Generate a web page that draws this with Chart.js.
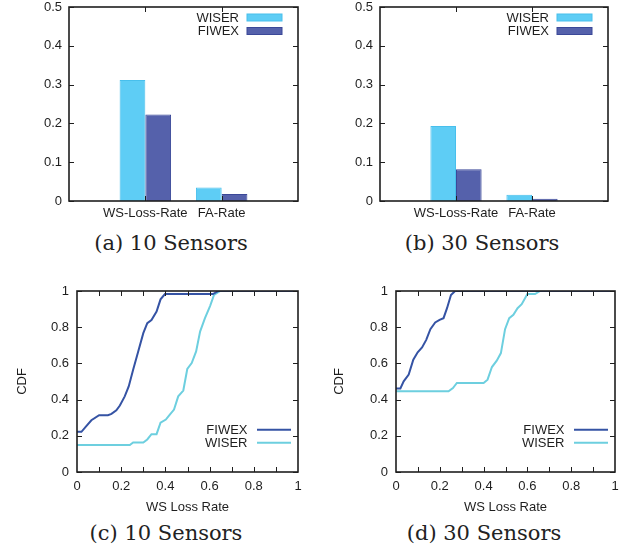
<!DOCTYPE html>
<html>
<head>
<meta charset="utf-8">
<script src="https://cdn.jsdelivr.net/npm/chart.js@4"></script>
<style>
  body { margin: 0; background: #fff; width: 628px; height: 550px; position: relative; overflow: hidden; }
  canvas { position: absolute; }
  .cap { position: absolute; font-family: "DejaVu Serif", serif; font-size: 21px; color: #222; white-space: nowrap; transform: translate(-50%, -50%); }
</style>
</head>
<body>
<canvas id="c10bar" width="310" height="222" style="left:0;top:0"></canvas>
<canvas id="c30bar" width="318" height="222" style="left:310px;top:0"></canvas>
<canvas id="c10cdf" width="310" height="239" style="left:0;top:276px"></canvas>
<canvas id="c30cdf" width="318" height="239" style="left:310px;top:276px"></canvas>
<div class="cap" style="left:171px;top:243px">(a) 10 Sensors</div>
<div class="cap" style="left:482px;top:243px">(b) 30 Sensors</div>
<div class="cap" style="left:166px;top:533px">(c) 10 Sensors</div>
<div class="cap" style="left:484px;top:533px">(d) 30 Sensors</div>
<script>
// bar charts
const barCategories = ['WS-Loss-Rate', 'FA-Rate'];
const wiser10 = [0.312, 0.035];
const fiwex10 = [0.223, 0.018];
const wiser30 = [0.193, 0.016];
const fiwex30 = [0.082, 0.006];

// CDF curves, [ws loss rate, cdf]
const fiwexCdf10 = [[0,0.222],[0.02,0.222],[0.042,0.253],[0.065,0.286],[0.1,0.314],[0.14,0.314],[0.156,0.321],
  [0.178,0.341],[0.194,0.367],[0.216,0.418],[0.234,0.473],[0.254,0.565],[0.277,0.666],[0.3,0.767],[0.318,0.822],
  [0.337,0.84],[0.36,0.886],[0.378,0.954],[0.398,0.983],[0.615,0.983],[0.64,1],[1,1]];
const wiserCdf10 = [[0,0.149],[0.239,0.149],[0.254,0.163],[0.3,0.163],[0.318,0.18],[0.337,0.209],[0.36,0.209],
  [0.378,0.272],[0.402,0.29],[0.42,0.317],[0.439,0.345],[0.458,0.418],[0.481,0.45],[0.499,0.569],[0.519,0.602],
  [0.539,0.666],[0.557,0.776],[0.579,0.85],[0.602,0.917],[0.62,0.978],[0.648,1],[1,1]];
const fiwexCdf30 = [[0,0.462],[0.02,0.462],[0.035,0.501],[0.058,0.538],[0.079,0.62],[0.099,0.661],[0.119,0.688],
  [0.138,0.73],[0.157,0.789],[0.179,0.826],[0.199,0.84],[0.217,0.85],[0.233,0.905],[0.251,0.978],[0.27,1],[1,1]];
const wiserCdf30 = [[0,0.446],[0.24,0.446],[0.26,0.464],[0.278,0.492],[0.4,0.492],[0.418,0.51],[0.438,0.58],
  [0.46,0.615],[0.479,0.657],[0.498,0.789],[0.517,0.85],[0.536,0.868],[0.555,0.905],[0.574,0.927],[0.6,0.983],
  [0.635,0.983],[0.658,1],[1,1]];

const WISER_BAR = '#5ecdf5', WISER_EDGE = '#48bfec';
const FIWEX_BAR = '#5561ab', FIWEX_EDGE = '#3b4898';
const FIWEX_LINE = '#3553a4', WISER_LINE = '#6dcfdf';
const INK = '#1e1e1e';
const FONT = { family: 'Liberation Sans, Arial, sans-serif', size: 13 };

const fmt = v => String(+Number(v).toFixed(1));

// gnuplot-like frame with inward ticks, plus a gnuplot-style key
const framePlugin = {
  id: 'frame',
  afterDraw(chart, args, opts) {
    const { ctx, chartArea: a } = chart;
    const xs = chart.scales.x, ys = chart.scales.y;
    ctx.save();
    ctx.strokeStyle = INK;
    ctx.lineWidth = 1;
    ys.ticks.forEach(t => {
      const py = Math.round(ys.getPixelForValue(t.value)) + 0.5;
      ctx.beginPath();
      ctx.moveTo(a.left, py); ctx.lineTo(a.left + 5, py);
      ctx.moveTo(a.right, py); ctx.lineTo(a.right - 5, py);
      ctx.stroke();
    });
    (opts.xTicks || []).forEach(v => {
      const px = Math.round(xs.getPixelForValue(v)) + 0.5;
      ctx.beginPath();
      ctx.moveTo(px, a.top); ctx.lineTo(px, a.top + 5);
      ctx.moveTo(px, a.bottom); ctx.lineTo(px, a.bottom - 5);
      ctx.stroke();
    });
    ctx.lineWidth = 1.6;
    ctx.strokeRect(a.left, a.top, a.right - a.left, a.bottom - a.top);

    // key
    ctx.font = FONT.size + 'px ' + FONT.family;
    ctx.textAlign = 'right';
    ctx.textBaseline = 'middle';
    const rows = opts.keyOrder.map(i => chart.data.datasets[i]);
    rows.forEach((ds, k) => {
      const y = opts.keyFromBottom ? a.bottom - opts.keyY + k * 13 : a.top + opts.keyY + k * 13.5;
      ctx.fillStyle = INK;
      ctx.fillText(ds.label, a.right - opts.textGap, y + 0.5);
      if (opts.bars) {
        ctx.fillStyle = ds.backgroundColor;
        ctx.fillRect(a.right - 51, y - 3.5, 35, 7);
        ctx.strokeStyle = ds.borderColor;
        ctx.lineWidth = 1;
        ctx.strokeRect(a.right - 51, y - 3.5, 35, 7);
      } else {
        ctx.strokeStyle = ds.borderColor;
        ctx.lineWidth = 2;
        ctx.beginPath();
        ctx.moveTo(a.right - 41, y); ctx.lineTo(a.right - 7, y);
        ctx.stroke();
      }
    });
    ctx.restore();
  }
};

function fixX(h) {
  return s => { s.height = h; s.paddingLeft = 0; s.paddingRight = 0; };
}
function fixY(w) {
  return s => { s.width = w; s.paddingTop = 0; s.paddingBottom = 0; };
}

function barChart(id, wiser, fiwex, yAxisWidth, padRight) {
  new Chart(document.getElementById(id), {
    type: 'bar',
    data: {
      labels: ['', ...barCategories, ''],
      datasets: [
        { label: 'WISER', data: [null, ...wiser, null], backgroundColor: WISER_BAR, borderColor: WISER_EDGE, borderWidth: 1 },
        { label: 'FIWEX', data: [null, ...fiwex, null], backgroundColor: FIWEX_BAR, borderColor: FIWEX_EDGE, borderWidth: 1 }
      ]
    },
    options: {
      responsive: false,
      animation: false,
      devicePixelRatio: 1,
      categoryPercentage: 0.674,
      barPercentage: 1,
      layout: { padding: { top: 7, right: padRight, left: 0, bottom: 0 } },
      scales: {
        x: {
          offset: false,
          grid: { display: false, drawTicks: false, offset: false },
          border: { display: false },
          ticks: { color: INK, font: FONT, padding: 5, autoSkip: false, maxRotation: 0 },
          afterFit: fixX(21)
        },
        y: {
          min: 0, max: 0.5,
          grid: { display: false, drawTicks: false },
          border: { display: false },
          ticks: { stepSize: 0.1, color: INK, font: FONT, padding: 7, callback: fmt },
          afterFit: fixY(yAxisWidth)
        }
      },
      plugins: {
        legend: { display: false },
        tooltip: { enabled: false },
        frame: { xTicks: [1, 2], keyOrder: [0, 1], keyY: 10.5, textGap: 59, bars: true }
      }
    },
    plugins: [framePlugin]
  });
}

function cdfChart(id, fiwex, wiser, yAxisWidth, padRight, titlePad) {
  const pts = arr => arr.map(p => ({ x: p[0], y: p[1] }));
  new Chart(document.getElementById(id), {
    type: 'line',
    data: {
      datasets: [
        { label: 'FIWEX', data: pts(fiwex), borderColor: FIWEX_LINE, borderWidth: 2, pointRadius: 0, tension: 0 },
        { label: 'WISER', data: pts(wiser), borderColor: WISER_LINE, borderWidth: 2, pointRadius: 0, tension: 0 }
      ]
    },
    options: {
      responsive: false,
      animation: false,
      devicePixelRatio: 1,
      layout: { padding: { top: 15, right: padRight, left: 0, bottom: 0 } },
      scales: {
        x: {
          type: 'linear', min: 0, max: 1,
          grid: { display: false, drawTicks: false },
          border: { display: false },
          ticks: { stepSize: 0.2, color: INK, font: FONT, padding: 7, maxRotation: 0, callback: fmt },
          title: { display: true, text: 'WS Loss Rate', color: INK, font: FONT, padding: { top: 0, bottom: 0 } },
          afterFit: fixX(43)
        },
        y: {
          min: 0, max: 1,
          grid: { display: false, drawTicks: false },
          border: { display: false },
          ticks: { stepSize: 0.2, color: INK, font: FONT, padding: 8, callback: fmt },
          title: { display: true, text: 'CDF', color: INK, font: FONT, padding: { top: titlePad, bottom: 0 } },
          afterFit: fixY(yAxisWidth)
        }
      },
      plugins: {
        legend: { display: false },
        tooltip: { enabled: false },
        frame: { xTicks: [0.1, 0.2, 0.3, 0.4, 0.5, 0.6, 0.7, 0.8, 0.9], keyOrder: [0, 1], keyFromBottom: true, keyY: 42.3, textGap: 50.5, bars: false }
      }
    },
    plugins: [framePlugin]
  });
}

barChart('c10bar', wiser10, fiwex10, 69, 12);
barChart('c30bar', wiser30, fiwex30, 70, 20);
cdfChart('c10cdf', fiwexCdf10, wiserCdf10, 77, 12, 15);
cdfChart('c30cdf', fiwexCdf30, wiserCdf30, 86, 13, 22);
</script>
</body>
</html>
